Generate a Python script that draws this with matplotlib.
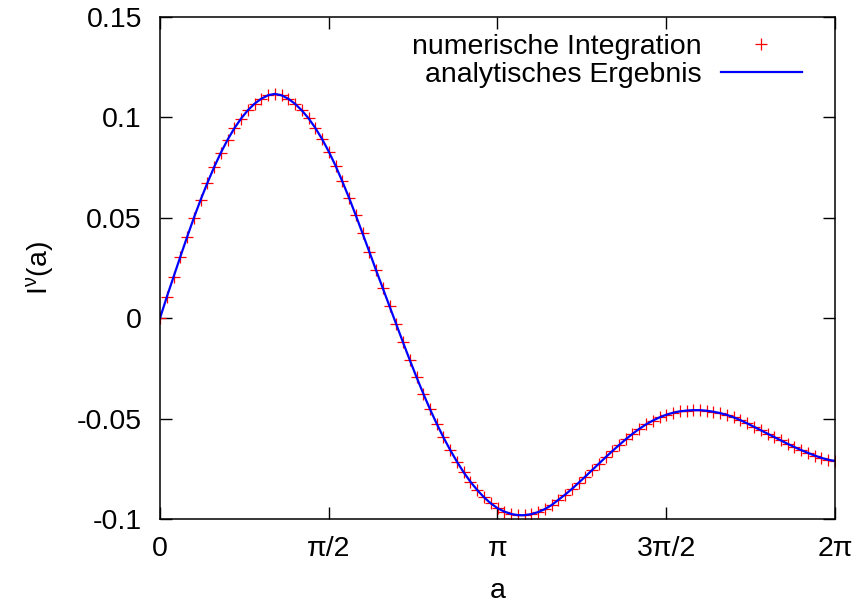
import numpy as np
import matplotlib
matplotlib.use("Agg")
import matplotlib.pyplot as plt

plt.rcParams['font.family'] = ['Liberation Sans', 'DejaVu Sans']
plt.rcParams['mathtext.fontset'] = 'custom'
plt.rcParams['mathtext.rm'] = 'Liberation Sans'
plt.rcParams['mathtext.it'] = 'Liberation Sans:italic'

# sampling grid: 101 points over [0, 2*pi]
a_vals = np.linspace(0, 2 * np.pi, 101)

numeric_vals = [
    0.0000, 0.0105, 0.0205, 0.0305, 0.0403, 0.0498, 0.0588, 0.0672, 0.0751, 0.0823,
    0.0888, 0.0945, 0.0994, 0.1035, 0.1068, 0.1093, 0.1110, 0.1117, 0.1110, 0.1093,
    0.1068, 0.1035, 0.0996, 0.0948, 0.0893, 0.0830, 0.0760, 0.0682, 0.0600, 0.0513,
    0.0423, 0.0332, 0.0240, 0.0150, 0.0060, -0.0030, -0.0120, -0.0208, -0.0293, -0.0375,
    -0.0453, -0.0526, -0.0594, -0.0657, -0.0715, -0.0768, -0.0815, -0.0856, -0.0892, -0.0922,
    -0.0946, -0.0963, -0.0975, -0.0981, -0.0981, -0.0976, -0.0966, -0.0951, -0.0931, -0.0905,
    -0.0879, -0.0851, -0.0820, -0.0789, -0.0757, -0.0725, -0.0693, -0.0662, -0.0632, -0.0603,
    -0.0576, -0.0551, -0.0529, -0.0510, -0.0494, -0.0481, -0.0471, -0.0464, -0.0460, -0.0458,
    -0.0458, -0.0461, -0.0466, -0.0473, -0.0482, -0.0494, -0.0508, -0.0524, -0.0541, -0.0558,
    -0.0575, -0.0592, -0.0609, -0.0626, -0.0642, -0.0657, -0.0671, -0.0684, -0.0696, -0.0705,
    -0.0711,
]
analytic_vals = numeric_vals

x_ticks = [0, np.pi / 2, np.pi, 3 * np.pi / 2, 2 * np.pi]
x_tick_labels = ["0", "π/2", "π", "3π/2", "2π"]
y_ticks = [-0.1, -0.05, 0, 0.05, 0.1, 0.15]
y_tick_labels = ["-0.1", "-0.05", "0", "0.05", "0.1", "0.15"]

FS = 20.5

fig = plt.figure(figsize=(8.54, 6.06), dpi=100)
ax = fig.add_axes([160 / 854, 1 - 519 / 606, 675 / 854, 502 / 606])

ax.plot(a_vals, numeric_vals, linestyle='none', marker='+', color='#ff0000',
        markersize=8.6, markeredgewidth=0.9, label='numerische Integration')
ax.plot(a_vals, analytic_vals, color='#0000ff', linewidth=1.6,
        label='analytisches Ergebnis')

ax.set_xlim(0, 2 * np.pi)
ax.set_ylim(-0.1, 0.15)
ax.set_xticks(x_ticks)
ax.set_xticklabels(x_tick_labels)
ax.set_yticks(y_ticks)
ax.set_yticklabels(y_tick_labels)
ax.tick_params(direction='in', length=8.3, width=1.0, top=True, right=True,
               labelsize=FS, colors='black')
ax.tick_params(axis='y', pad=13)
ax.tick_params(axis='x', pad=12)
for s in ax.spines.values():
    s.set_linewidth(1.1)

ax.set_xlabel('a', fontsize=FS, labelpad=12)
ax.set_ylabel(r'$\mathregular{I^{\nu}(a)}$', fontsize=FS, labelpad=15)

leg = ax.legend(loc='upper right', bbox_to_anchor=(0.976, 1.0), frameon=False,
                fontsize=FS, markerfirst=False, handlelength=2.85,
                handletextpad=0.68, labelspacing=0.05, borderaxespad=0.3,
                borderpad=0.3)

fig.savefig('out.png', dpi=100)
